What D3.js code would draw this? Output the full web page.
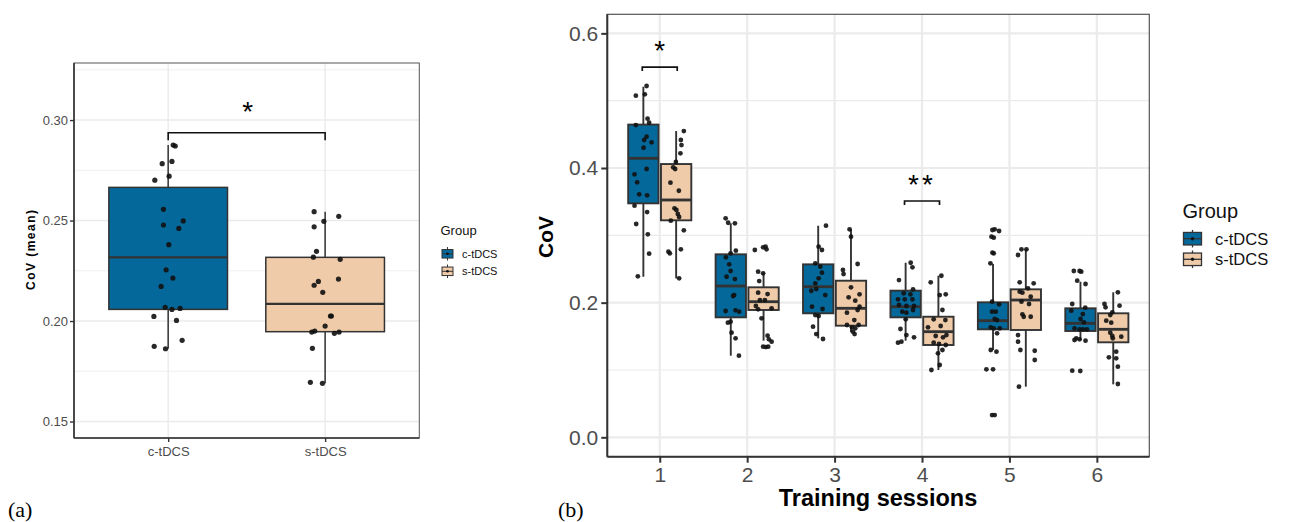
<!DOCTYPE html>
<html><head><meta charset="utf-8">
<script src="https://cdn.jsdelivr.net/npm/d3@7"></script>
<style>body{margin:0;background:#fff}svg{display:block;font-family:"Liberation Sans",Arial,sans-serif}</style>
</head><body>
<svg id="c" width="1289" height="522"></svg>
<script>
// ---------- DATA ----------
const groups = ["c-tDCS", "s-tDCS"];
const fillColors = ["#05689A", "#EFCBA9"];
// panel (a): box stats [ymin, q1, median, q3, ymax]
const statsA = [
  [0.1862, 0.2058, 0.2317, 0.2665, 0.2876],
  [0.1690, 0.1947, 0.2085, 0.2317, 0.2544]
];
// panel (a): points [value, jitter (category units)]
const pointsAc = [[0.2876,.032],[0.2871,.045],[0.2783,-.038],[0.2794,.024],[0.2701,-.085],[0.2721,.006],[0.2556,-.030],[0.2478,-.030],[0.2498,.096],[0.2461,.068],[0.2380,.004],[0.2255,-.013],[0.2214,.030],[0.2172,-.045],[0.2068,-.019],[0.2058,.024],[0.2063,.076],[0.2023,-.091],[0.2003,.053],[0.1874,-.089],[0.1862,-.017],[0.1904,.089]];
const pointsAs = [[0.2544,-.070],[0.2496,-.008],[0.2521,.087],[0.2469,-.070],[0.2347,-.055],[0.2318,-.075],[0.2307,.096],[0.2197,-.043],[0.2178,-.070],[0.2209,.085],[0.2143,-.015],[0.2025,.040],[0.2025,.034],[0.1975,0],[0.1945,-.085],[0.1950,-.066],[0.1939,.059],[0.1945,.089],[0.1864,-.081],[0.1695,-.094],[0.1690,-.017]];
const ticksA = [0.15, 0.20, 0.25, 0.30];

// panel (b)
const sessions = [1, 2, 3, 4, 5, 6];
const statsC = [
  [0.2385,0.3475,0.4144,0.4645,0.5207],
  [0.1212,0.1782,0.2247,0.2718,0.3178],
  [0.1470,0.1842,0.2237,0.2569,0.3143],
  [0.1435,0.1782,0.1940,0.2178,0.2593],
  [0.1297,0.1604,0.1732,0.2005,0.2574],
  [0.1445,0.1579,0.1693,0.1916,0.2311]
];
const statsS = [
  [0.2361,0.3223,0.3525,0.4059,0.4549],
  [0.1435,0.1891,0.2014,0.2228,0.2445],
  [0.1559,0.1658,0.1916,0.2326,0.3089],
  [0.1000,0.1371,0.1569,0.1791,0.2400],
  [0.0752,0.1594,0.2039,0.2198,0.2792],
  [0.0787,0.1411,0.1604,0.1842,0.2154]
];
const pointsC = [
  [[0.5218,.037],[0.5094,.017],[0.5074,-.086],[0.4732,.048],[0.4673,.066],[0.4638,-.086],[0.4465,.037],[0.4416,.009],[0.4381,.094],[0.4301,.002],[0.3985,.037],[0.3906,-.101],[0.3787,-.071],[0.3609,-.048],[0.3594,.043],[0.3440,-.101],[0.3346,.043],[0.3168,-.082],[0.3015,.051],[0.2727,.066],[0.2391,-.063]],
  [[0.3253,-.059],[0.3187,-.030],[0.3178,.047],[0.2772,.058],[0.2733,-.002],[0.2673,-.056],[0.2569,-.018],[0.2470,-.002],[0.2385,-.048],[0.2351,.047],[0.2113,.039],[0.2099,.027],[0.1876,-.059],[0.1886,.055],[0.1866,.096],[0.1717,-.002],[0.1702,-.033],[0.1554,.009],[0.1470,.055],[0.1212,.093]],
  [[0.3143,.089],[0.2831,.005],[0.2782,.043],[0.2584,-.033],[0.2534,.024],[0.2445,.043],[0.2361,.005],[0.2287,-.033],[0.2203,-.022],[0.2177,-.079],[0.2113,.081],[0.1940,-.071],[0.1906,.050],[0.1816,-.033],[0.1802,.005],[0.1643,-.059],[0.1534,-.022],[0.1460,.055]],
  [[0.2593,.058],[0.2525,.078],[0.2336,-.076],[0.2198,.085],[0.2139,-.022],[0.2124,.055],[0.2050,-.087],[0.2050,-.010],[0.2050,.078],[0.1965,-.076],[0.1950,.009],[0.1950,.096],[0.1866,-.037],[0.1851,.009],[0.1891,.085],[0.1753,.001],[0.1609,-.059],[0.1519,.009],[0.1485,.096],[0.1420,-.048],[0.1405,-.087]],
  [[0.3079,-.007],[0.3089,.019],[0.3064,.069],[0.2980,-.018],[0.2965,.008],[0.2742,-.007],[0.2733,.008],[0.2584,-.030],[0.2014,-.011],[0.1975,.069],[0.1866,-.011],[0.1866,.031],[0.1742,.046],[0.1757,.019],[0.1634,-.026],[0.1619,.008],[0.1619,.077],[0.1545,.046],[0.1297,-.026],[0.1272,.039],[0.1010,-.076],[0.1010,0],[0.0331,-.011],[0.0331,.019]],
  [[0.2470,-.076],[0.2470,-.010],[0.2460,.009],[0.2326,-.037],[0.2277,.058],[0.1980,-.094],[0.1925,.055],[0.1881,-.105],[0.1831,.027],[0.1757,.001],[0.1708,.039],[0.1619,-.068],[0.1604,-.010],[0.1604,.027],[0.1604,.073],[0.1470,-.048],[0.1455,-.010],[0.1435,.058],[0.1445,-.068],[0.0989,-.094],[0.0985,-.002]]
];
const pointsS = [
  [[0.4549,.088],[0.4416,.054],[0.4341,.061],[0.4218,.049],[0.4089,-.003],[0.4010,-.034],[0.3985,-.011],[0.3782,-.065],[0.3662,.031],[0.3401,-.019],[0.3376,.003],[0.3317,.019],[0.3272,.034],[0.3217,-.061],[0.3074,.088],[0.2757,-.088],[0.2733,-.072],[0.2792,.054],[0.2361,.034]],
  [[0.2782,-.100],[0.2822,-.005],[0.2831,.023],[0.2792,.034],[0.2460,-.062],[0.2321,-.050],[0.2436,-.005],[0.2148,-.062],[0.2128,.046],[0.2039,.015],[0.2039,-.042],[0.1950,-.088],[0.1901,-.062],[0.1916,.092],[0.1767,-.023],[0.1509,.046],[0.1455,.061],[0.1420,.092],[0.1346,-.005],[0.1341,.026],[0.1346,.053]],
  [[0.3089,-.016],[0.2980,0],[0.2574,.076],[0.2485,-.092],[0.2425,-.085],[0.2228,0],[0.2124,.098],[0.2079,-.027],[0.2029,.049],[0.1940,.098],[0.1891,.076],[0.1851,-.046],[0.1742,.038],[0.1668,-.046],[0.1634,.011],[0.1619,.049],[0.1668,.087],[0.1569,.023],[0.1534,.041]],
  [[0.2400,.034],[0.2302,-.088],[0.2124,.084],[0.2113,.015],[0.1891,.046],[0.1753,-.054],[0.1742,.080],[0.1653,.026],[0.1634,-.119],[0.1519,.092],[0.1505,-.031],[0.1485,.053],[0.1405,-.054],[0.1386,.007],[0.1371,.084],[0.1297,.046],[0.1248,-.005],[0.1000,-.080],[0.1074,.015]],
  [[0.2792,-.050],[0.2792,.007],[0.2708,-.089],[0.2302,-.070],[0.2287,.090],[0.2213,.025],[0.2163,-.070],[0.2148,-.039],[0.2088,.056],[0.2014,-.050],[0.1980,.037],[0.1827,-.039],[0.1791,-.024],[0.1791,.056],[0.1519,-.089],[0.1420,-.089],[0.1297,-.062],[0.1286,.102],[0.1148,.102],[0.0752,-.078]],
  [[0.2154,.053],[0.1980,-.100],[0.1955,.072],[0.1931,-.088],[0.1857,-.011],[0.1816,-.034],[0.1732,-.080],[0.1702,-.023],[0.1554,-.034],[0.1505,-.011],[0.1470,-.005],[0.1494,.092],[0.1272,.034],[0.1188,-.050],[0.1173,.034],[0.1049,.053],[0.0792,.053]]
];
const ticksB = [0.0, 0.2, 0.4, 0.6];
const sigA = {from: 1, to: 2, y: 0.2937, label: "*"};
const sigB = [{session: 1, y: 0.5499, label: "*"}, {session: 4, y: 0.351, label: "**"}];

// ---------- DRAW ----------
const SANS = "Liberation Sans, Arial, sans-serif";
const SERIF = "Liberation Serif, Times New Roman, serif";
const svg = d3.select("#c");
svg.append("rect").attr("width",1289).attr("height",522).attr("fill","#fff");
const EDGE = "#333333";

function boxplot(g, x, y, cx, w, s, fill, sw) {
  g.append("line").attr("x1",x(cx)).attr("x2",x(cx)).attr("y1",y(s[4])).attr("y2",y(s[3]))
    .attr("stroke",EDGE).attr("stroke-width",sw);
  g.append("line").attr("x1",x(cx)).attr("x2",x(cx)).attr("y1",y(s[1])).attr("y2",y(s[0]))
    .attr("stroke",EDGE).attr("stroke-width",sw);
  g.append("rect").attr("x",x(cx-w/2)).attr("width",x(cx+w/2)-x(cx-w/2))
    .attr("y",y(s[3])).attr("height",y(s[1])-y(s[3]))
    .attr("fill",fill).attr("stroke",EDGE).attr("stroke-width",sw);
  g.append("line").attr("x1",x(cx-w/2)).attr("x2",x(cx+w/2)).attr("y1",y(s[2])).attr("y2",y(s[2]))
    .attr("stroke",EDGE).attr("stroke-width",sw*1.5);
}
function points(g, x, y, cx, pts, r) {
  g.selectAll(null).data(pts).enter().append("circle")
    .attr("cx", d => x(cx + d[1])).attr("cy", d => y(d[0])).attr("r", r)
    .attr("fill","#111").attr("fill-opacity",0.9);
}
function legendKey(g, x0, yc, w, h, fill, sw) {
  g.append("line").attr("x1",x0+w/2).attr("x2",x0+w/2).attr("y1",yc-h/2-2.5).attr("y2",yc+h/2+2.5)
    .attr("stroke",EDGE).attr("stroke-width",sw);
  g.append("rect").attr("x",x0).attr("y",yc-h/2).attr("width",w).attr("height",h)
    .attr("fill",fill).attr("stroke",EDGE).attr("stroke-width",sw);
  g.append("line").attr("x1",x0).attr("x2",x0+w).attr("y1",yc).attr("y2",yc)
    .attr("stroke",EDGE).attr("stroke-width",sw);
  g.append("circle").attr("cx",x0+w/2).attr("cy",yc).attr("r",sw*1.3).attr("fill","#111");
}

// ===== Panel (a) =====
{
  const L=74, R=419.3, T=63, B=438;
  const x = d3.scaleLinear([0.4, 2.6], [L, R]);
  const y = d3.scaleLinear([0.1418, 0.3284], [B, T]);
  const g = svg.append("g");
  const minor = d3.range(0.125, 0.33, 0.05).filter(v => y(v) >= T && y(v) <= B);
  g.selectAll(null).data(minor).enter().append("line")
    .attr("x1",L).attr("x2",R).attr("y1",d=>y(d)).attr("y2",d=>y(d)).attr("stroke","#ebebeb").attr("stroke-width",0.8);
  g.selectAll(null).data(ticksA).enter().append("line")
    .attr("x1",L).attr("x2",R).attr("y1",d=>y(d)).attr("y2",d=>y(d)).attr("stroke","#ebebeb").attr("stroke-width",1.4);
  g.selectAll(null).data([1,2]).enter().append("line")
    .attr("x1",d=>x(d)).attr("x2",d=>x(d)).attr("y1",T).attr("y2",B).attr("stroke","#ebebeb").attr("stroke-width",1.4);
  const bw = 0.756;
  statsA.forEach((s,i) => boxplot(g, x, y, i+1, bw, s, fillColors[i], 1.5));
  points(g, x, y, 1, pointsAc, 2.6);
  points(g, x, y, 2, pointsAs, 2.6);
  g.append("rect").attr("x",L).attr("y",T).attr("width",R-L).attr("height",B-T)
    .attr("fill","none").attr("stroke","#555").attr("stroke-width",1);
  const ay = d3.axisLeft(y).tickValues(ticksA).tickFormat(d3.format(".2f")).tickSize(4).tickPadding(2);
  const gy = g.append("g").attr("transform",`translate(${L},0)`).call(ay);
  const ax = d3.axisBottom(x).tickValues([1,2]).tickFormat((d,i)=>groups[i]).tickSize(4).tickPadding(5);
  const gx = g.append("g").attr("transform",`translate(0,${B})`).call(ax);
  [gy,gx].forEach(a => {
    a.select(".domain").attr("stroke",EDGE).attr("stroke-width",1.6);
    a.selectAll(".tick line").attr("stroke",EDGE).attr("stroke-width",1.4);
    a.selectAll(".tick text").attr("fill","#4d4d4d").attr("font-size",13).style("font-family",SANS);
  });
  gx.select(".domain").attr("d",`M${L},0H${R}`);
  gy.select(".domain").attr("d",`M0,${T}V${B}`);
  g.append("text").attr("transform",`translate(35,250) rotate(-90)`).attr("text-anchor","middle")
    .attr("font-size",12).attr("font-weight","bold").attr("textLength",80).text("CoV (mean)");
  const yb = y(sigA.y);
  g.append("path").attr("d",`M${x(sigA.from)},${yb+7.5}V${yb}H${x(sigA.to)}V${yb+7.5}`)
    .attr("fill","none").attr("stroke","#111").attr("stroke-width",1.6);
  g.append("text").attr("x",(x(sigA.from)+x(sigA.to))/2+1).attr("y",yb-12).attr("text-anchor","middle")
    .attr("font-size",28).text(sigA.label);
  g.append("text").attr("x",440.5).attr("y",234.5).attr("font-size",13).attr("fill","#111").text("Group");
  groups.forEach((gr,i) => {
    const yc = 253.8 + i*17.5;
    legendKey(g, 442, yc, 11, 8.5, fillColors[i], 1);
    g.append("text").attr("x",462).attr("y",yc+4).attr("font-size",11).attr("fill","#111").text(gr);
  });
  g.append("text").attr("x",8).attr("y",517).style("font-family",SERIF)
    .attr("font-size",22).text("(a)");
}

// ===== Panel (b) =====
{
  const L=607.3, R=1149.3, T=14.3, B=456.7;
  const x = d3.scaleLinear([0.4, 6.6], [L, R]);
  const y = d3.scaleLinear([-0.0288, 0.6283], [B, T]);
  const g = svg.append("g");
  const minor = [0.1, 0.3, 0.5];
  g.selectAll(null).data(minor).enter().append("line")
    .attr("x1",L).attr("x2",R).attr("y1",d=>y(d)).attr("y2",d=>y(d)).attr("stroke","#ebebeb").attr("stroke-width",1.2);
  g.selectAll(null).data(ticksB).enter().append("line")
    .attr("x1",L).attr("x2",R).attr("y1",d=>y(d)).attr("y2",d=>y(d)).attr("stroke","#ebebeb").attr("stroke-width",2.2);
  g.selectAll(null).data(sessions).enter().append("line")
    .attr("x1",d=>x(d)).attr("x2",d=>x(d)).attr("y1",T).attr("y2",B).attr("stroke","#ebebeb").attr("stroke-width",2.2);
  const dodge = 0.1875, bw = 0.347;
  sessions.forEach((s,i) => {
    boxplot(g, x, y, s-dodge, bw, statsC[i], fillColors[0], 1.9);
    boxplot(g, x, y, s+dodge, bw, statsS[i], fillColors[1], 1.9);
  });
  sessions.forEach((s,i) => {
    points(g, x, y, s-dodge, pointsC[i], 2.4);
    points(g, x, y, s+dodge, pointsS[i], 2.4);
  });
  g.append("rect").attr("x",L).attr("y",T).attr("width",R-L).attr("height",B-T)
    .attr("fill","none").attr("stroke","#555").attr("stroke-width",1.2);
  const ay = d3.axisLeft(y).tickValues(ticksB).tickFormat(d3.format(".1f")).tickSize(6).tickPadding(3);
  const gy = g.append("g").attr("transform",`translate(${L},0)`).call(ay);
  const ax = d3.axisBottom(x).tickValues(sessions).tickFormat(d3.format("d")).tickSize(6).tickPadding(4);
  const gx = g.append("g").attr("transform",`translate(0,${B})`).call(ax);
  [gy,gx].forEach(a => {
    a.select(".domain").attr("stroke",EDGE).attr("stroke-width",2);
    a.selectAll(".tick line").attr("stroke",EDGE).attr("stroke-width",2);
    a.selectAll(".tick text").attr("fill","#4d4d4d").attr("font-size",21).style("font-family",SANS);
  });
  gx.select(".domain").attr("d",`M${L},0H${R}`);
  gy.select(".domain").attr("d",`M0,${T}V${B}`);
  g.append("text").attr("transform",`translate(553,237) rotate(-90)`).attr("text-anchor","middle")
    .attr("font-size",21).attr("font-weight","bold").text("CoV");
  g.append("text").attr("x",878).attr("y",506).attr("text-anchor","middle")
    .attr("font-size",23.5).attr("font-weight","bold").text("Training sessions");
  sigB.forEach(sg => {
    const yb = y(sg.y), x1 = x(sg.session-0.2), x2 = x(sg.session+0.2);
    g.append("path").attr("d",`M${x1},${yb+4}V${yb}H${x2}V${yb+4}`)
      .attr("fill","none").attr("stroke","#111").attr("stroke-width",1.7);
    g.append("text").attr("x",x(sg.session)).attr("y",yb-7).attr("text-anchor","middle")
      .attr("font-size",28).attr("letter-spacing",sg.label.length>1?3:0).text(sg.label);
  });
  g.append("text").attr("x",1182.5).attr("y",217.5).attr("font-size",20).attr("fill","#111").text("Group");
  groups.forEach((gr,i) => {
    const yc = 238.7 + i*20.6;
    legendKey(g, 1183.5, yc, 18, 12.5, fillColors[i], 1.3);
    g.append("text").attr("x",1215).attr("y",yc+6).attr("font-size",16.5).attr("fill","#111").text(gr);
  });
  g.append("text").attr("x",558).attr("y",517).style("font-family",SERIF)
    .attr("font-size",22).text("(b)");
}
</script>
</body></html>
